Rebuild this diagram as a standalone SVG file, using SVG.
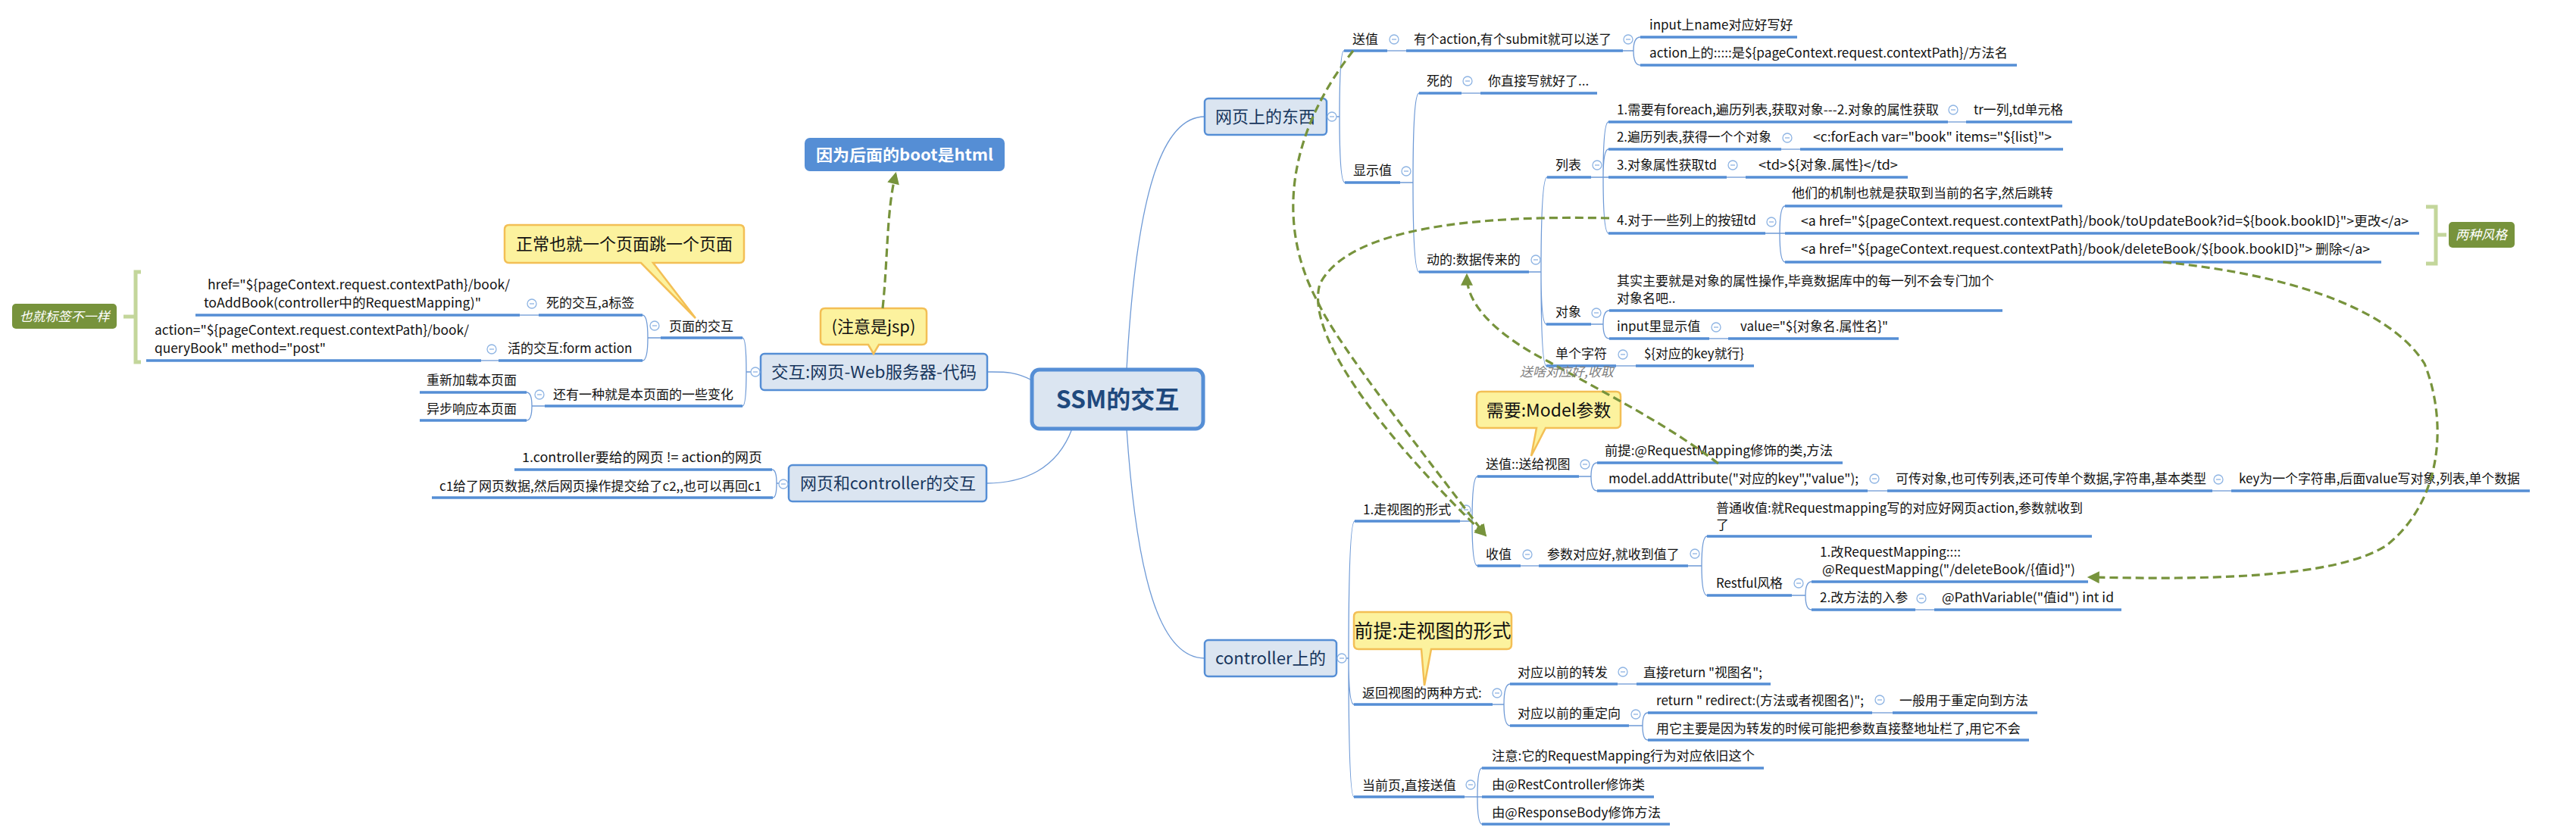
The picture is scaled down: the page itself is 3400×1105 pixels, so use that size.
<svg xmlns="http://www.w3.org/2000/svg" xmlns:xlink="http://www.w3.org/1999/xlink" width="3400" height="1105" viewBox="0 0 3400 1105">
<style>
text{font-family:"Noto Sans CJK SC","Noto Sans",sans-serif;font-size:17px;fill:#111}
.ul{stroke:#558ed5;stroke-width:3.5;fill:none}
.ln{stroke:#6f9ad6;stroke-width:1.3;fill:none}
.box{fill:#dbe5f1;stroke:#558ed5;stroke-width:2.5}
.nt{font-size:22px;fill:#17365d}
.call{fill:#fcf29e;stroke:#f3bf55;stroke-width:2.5}
.ct{font-size:22px;fill:#111}
.rel{stroke:#77933c;stroke-width:3.2;stroke-dasharray:11 6;fill:none}
.sumb{stroke:#c3d69b;stroke-width:5;fill:none}
.sum{fill:#77933c}
.st{fill:#fff;font-style:italic}
</style>
<defs>
<g id="col"><circle r="6" fill="#fff" stroke="#8eb4e3" stroke-width="1.3"/><line x1="-3" y1="0" x2="3" y2="0" stroke="#8eb4e3" stroke-width="1.3"/></g>
<marker id="ah" viewBox="0 0 10 10" refX="8" refY="5" markerWidth="18" markerHeight="16" markerUnits="userSpaceOnUse" orient="auto"><path d="M0,0 L10,5 L0,10 z" fill="#77933c"/></marker>
</defs>
<rect width="3400" height="1105" fill="#fff"/>

<g id="connectors">
<path class="ln" d="M1362,502 C1340,490 1325,491 1303,491"/>
<path class="ln" d="M1415,566 C1395,620 1350,638 1302,638"/>
<path class="ln" d="M1487,488 C1500,250 1535,154 1590,154"/>
<path class="ln" d="M1487,566 C1500,760 1530,869 1590,869"/>
<path class="ln" d="M1751,154 H1768 M1768,154 Q1768,67 1774,67 M1768,154 Q1768,241 1775,241"/>
<path class="ln" d="M1831,67 H1856"/>
<path class="ln" d="M2142,67 H2156 M2156,67 Q2156,49 2165,49 M2156,67 Q2156,86 2165,86"/>
<path class="ln" d="M1848,241 H1865 M1865,241 Q1865,123 1873,123 M1865,241 Q1865,359 1873,359"/>
<path class="ln" d="M1929,123 H1954"/>
<path class="ln" d="M2018,359 H2034 M2034,359 Q2034,234 2042,234 M2034,359 Q2034,428 2041,428 M2034,359 Q2034,483 2041,483"/>
<path class="ln" d="M2100,234 H2116 M2116,234 Q2116,161 2123,161 M2116,234 Q2116,197 2123,197 M2116,234 H2123 M2116,234 Q2116,308 2123,308"/>
<path class="ln" d="M2571,161 H2595"/>
<path class="ln" d="M2351,197 H2376"/>
<path class="ln" d="M2279,234 H2304"/>
<path class="ln" d="M2330,308 H2349 M2349,308 Q2349,272 2356,272 M2349,308 H2356 M2349,308 Q2349,346 2356,346"/>
<path class="ln" d="M2100,428 H2116 M2116,428 Q2116,410 2124,410 M2116,428 Q2116,447 2124,447"/>
<path class="ln" d="M2256,447 H2281"/>
<path class="ln" d="M2133,483 H2159"/>
<path class="ln" d="M1764,869 H1780 M1780,869 Q1780,688 1788,688 M1780,869 Q1780,930 1787,930 M1780,869 Q1780,1052 1787,1052"/>
<path class="ln" d="M1927,688 H1943 M1943,688 Q1943,629 1950,629 M1943,688 Q1943,747 1950,747"/>
<path class="ln" d="M2084,629 H2100 M2100,629 Q2100,611 2108,611 M2100,629 Q2100,648 2108,648"/>
<path class="ln" d="M2465,648 H2491"/>
<path class="ln" d="M2920,648 H2945"/>
<path class="ln" d="M2007,747 H2031"/>
<path class="ln" d="M2228,747 H2246 M2246,747 Q2246,708 2253,708 M2246,747 Q2246,786 2253,786"/>
<path class="ln" d="M2365,786 H2383 M2383,786 Q2383,768 2391,768 M2383,786 Q2383,805 2391,805"/>
<path class="ln" d="M2528,805 H2553"/>
<path class="ln" d="M1970,930 H1985 M1985,930 Q1985,903 1993,903 M1985,930 Q1985,958 1993,958"/>
<path class="ln" d="M2135,903 H2160"/>
<path class="ln" d="M2150,958 H2168 M2168,958 Q2168,941 2175,941 M2168,958 Q2168,977 2175,977"/>
<path class="ln" d="M2471,941 H2498"/>
<path class="ln" d="M1933,1052 H1950 M1950,1052 Q1950,1014 1956,1014 M1950,1052 H1956 M1950,1052 Q1950,1088 1956,1088"/>
<path class="ln" d="M1004,491 H985 M985,491 Q985,446 980,446 M985,491 Q985,536 980,536"/>
<path class="ln" d="M872,446 H855 M855,446 Q855,416 848,416 M855,446 Q855,476 848,476"/>
<path class="ln" d="M711,416 H686"/>
<path class="ln" d="M658,476 H635"/>
<path class="ln" d="M719,536 H702 M702,536 Q702,518 695,518 M702,536 Q702,555 695,555"/>
<path class="ln" d="M1041,638 H1025 M1025,638 Q1025,620 1019,620 M1025,638 Q1025,657 1020,657"/>
</g>

<g id="n-root"><rect x="1362" y="488" width="226" height="78" rx="10" fill="#dbe5f1" stroke="#558ed5" stroke-width="5"/><text x="1475" y="539" text-anchor="middle" style="font-size:32px;font-weight:bold;fill:#1f497d">SSM的交互</text></g>

<g id="n-jiaohu"><rect class="box" x="1004" y="467" width="299" height="48" rx="5"/><text class="nt" x="1018" y="499" textLength="271" lengthAdjust="spacingAndGlyphs">交互:网页-Web服务器-代码</text><use href="#col" x="997" y="491"/></g>
<g id="n-wyc"><rect class="box" x="1041" y="614" width="261" height="48" rx="5"/><text class="nt" x="1056" y="646" textLength="232" lengthAdjust="spacingAndGlyphs">网页和controller的交互</text><use href="#col" x="1034" y="639"/></g>
<g id="n-web"><rect class="box" x="1590" y="130" width="161" height="48" rx="5"/><text class="nt" x="1604" y="162">网页上的东西</text><use href="#col" x="1758" y="154"/></g>
<g id="n-ctrl"><rect class="box" x="1590" y="845" width="174" height="48" rx="5"/><text class="nt" x="1604" y="877" textLength="146" lengthAdjust="spacingAndGlyphs">controller上的</text><use href="#col" x="1771" y="869"/></g>

<g id="n-boot"><rect x="1062" y="182" width="264" height="44" rx="7" fill="#558ed5"/><text x="1194" y="212" text-anchor="middle" textLength="234" lengthAdjust="spacingAndGlyphs" style="font-size:21px;font-weight:bold;fill:#fff">因为后面的boot是html</text></g>
<g id="n-jsp"><path class="call" d="M1089,407 H1217 Q1223,407 1223,413 V449 Q1223,455 1217,455 H1160 L1153,467 L1146,455 H1089 Q1083,455 1083,449 V413 Q1083,407 1089,407 Z"/><text class="ct" x="1153" y="439" text-anchor="middle">(注意是jsp)</text></g>
<g id="n-zc"><path class="call" d="M672,297 H976 Q982,297 982,303 V341 Q982,347 976,347 H862 L918,420 L846,347 H672 Q666,347 666,341 V303 Q666,297 672,297 Z"/><text class="ct" x="824" y="330" text-anchor="middle">正常也就一个页面跳一个页面</text></g>
<g id="n-model"><path class="call" d="M1955,517 H2133 Q2139,517 2139,523 V559 Q2139,565 2133,565 H2040 L2021,602 L2028,565 H1955 Q1949,565 1949,559 V523 Q1949,517 1955,517 Z"/><text class="ct" x="2044" y="550" text-anchor="middle" style="font-size:23px">需要:Model参数</text></g>
<g id="n-qt"><path class="call" d="M1793,808 H1989 Q1995,808 1995,814 V851 Q1995,857 1989,857 H1889 L1880,905 L1876,857 H1793 Q1787,857 1787,851 V814 Q1787,808 1793,808 Z"/><text class="ct" x="1891" y="842" text-anchor="middle" style="font-size:25px">前提:走视图的形式</text></g>

<g id="n-sz"><text x="1785" y="58">送值</text><path class="ul" d="M1774,67 H1831"/><use href="#col" x="1840" y="52"/></g>
<g id="n-yg"><text x="1866" y="58" textLength="261" lengthAdjust="spacingAndGlyphs">有个action,有个submit就可以送了</text><path class="ul" d="M1856,67 H2142"/><use href="#col" x="2149" y="52"/></g>
<g id="n-input"><text x="2177" y="39">input上name对应好写好</text><path class="ul" d="M2165,49 H2372"/></g>
<g id="n-action"><text x="2177" y="76" textLength="473" lengthAdjust="spacingAndGlyphs">action上的:::::是${pageContext.request.contextPath}/方法名</text><path class="ul" d="M2165,86 H2662"/></g>
<g id="n-xsz"><text x="1786" y="231">显示值</text><path class="ul" d="M1775,241 H1848"/><use href="#col" x="1856" y="226"/></g>
<g id="n-sd"><text x="1883" y="113">死的</text><path class="ul" d="M1873,123 H1929"/><use href="#col" x="1937" y="107"/></g>
<g id="n-nzj"><text x="1964" y="113">你直接写就好了...</text><path class="ul" d="M1954,123 H2108"/></g>
<g id="n-dd"><text x="1883" y="349">动的:数据传来的</text><path class="ul" d="M1873,359 H2018"/><use href="#col" x="2027" y="343"/></g>
<g id="n-lb"><text x="2053" y="224">列表</text><path class="ul" d="M2042,234 H2100"/><use href="#col" x="2108" y="218"/></g>
<g id="n-i1"><text x="2134" y="151" textLength="425" lengthAdjust="spacingAndGlyphs">1.需要有foreach,遍历列表,获取对象---2.对象的属性获取</text><path class="ul" d="M2123,161 H2571"/><use href="#col" x="2578" y="145"/></g>
<g id="n-tr"><text x="2605" y="151" textLength="118" lengthAdjust="spacingAndGlyphs">tr一列,td单元格</text><path class="ul" d="M2595,161 H2735"/></g>
<g id="n-i2"><text x="2134" y="187" textLength="204" lengthAdjust="spacingAndGlyphs">2.遍历列表,获得一个个对象</text><path class="ul" d="M2123,197 H2351"/><use href="#col" x="2359" y="182"/></g>
<g id="n-fe"><text x="2393" y="187" textLength="315" lengthAdjust="spacingAndGlyphs">&lt;c:forEach var="book" items="${list}"&gt;</text><path class="ul" d="M2376,197 H2723"/></g>
<g id="n-i3"><text x="2134" y="224" textLength="132" lengthAdjust="spacingAndGlyphs">3.对象属性获取td</text><path class="ul" d="M2123,234 H2279"/><use href="#col" x="2287" y="218"/></g>
<g id="n-td"><text x="2321" y="224" textLength="184" lengthAdjust="spacingAndGlyphs">&lt;td&gt;${对象.属性}&lt;/td&gt;</text><path class="ul" d="M2304,234 H2518"/></g>
<g id="n-i4"><text x="2134" y="297">4.对于一些列上的按钮td</text><path class="ul" d="M2123,308 H2330"/><use href="#col" x="2338" y="293"/></g>
<g id="n-tm"><text x="2365" y="261">他们的机制也就是获取到当前的名字,然后跳转</text><path class="ul" d="M2356,272 H2722"/></g>
<g id="n-upd"><text x="2377" y="298" textLength="802" lengthAdjust="spacingAndGlyphs">&lt;a href="${pageContext.request.contextPath}/book/toUpdateBook?id=${book.bookID}"&gt;更改&lt;/a&gt;</text><path class="ul" d="M2356,308 H3193"/></g>
<g id="n-del"><text x="2377" y="335" textLength="751" lengthAdjust="spacingAndGlyphs">&lt;a href="${pageContext.request.contextPath}/book/deleteBook/${book.bookID}"&gt; 删除&lt;/a&gt;</text><path class="ul" d="M2356,346 H3143"/></g>
<g id="s-lzfg"><path class="sumb" d="M3202,273 H3215 V348 H3202 M3215,310 H3229"/><rect class="sum" x="3232" y="293" width="87" height="34" rx="5"/><text class="st" x="3275" y="316" text-anchor="middle">两种风格</text></g>
<g id="n-dx"><text x="2053" y="418">对象</text><path class="ul" d="M2041,428 H2100"/><use href="#col" x="2107" y="413"/></g>
<g id="n-qs"><text x="2134" y="377">其实主要就是对象的属性操作,毕竟数据库中的每一列不会专门加个</text><text x="2134" y="400">对象名吧..</text><path class="ul" d="M2124,410 H2643"/></g>
<g id="n-inx"><text x="2134" y="437">input里显示值</text><path class="ul" d="M2124,447 H2256"/><use href="#col" x="2265" y="432"/></g>
<g id="n-val"><text x="2297" y="437" textLength="195" lengthAdjust="spacingAndGlyphs">value="${对象名.属性名}"</text><path class="ul" d="M2281,447 H2506"/></g>
<g id="n-dgzf"><text x="2053" y="473">单个字符</text><path class="ul" d="M2041,483 H2133"/><use href="#col" x="2142" y="468"/></g>
<g id="n-key"><text x="2170" y="473" textLength="132" lengthAdjust="spacingAndGlyphs">${对应的key就行}</text><path class="ul" d="M2159,483 H2315"/></g>

<g id="n-zst"><text x="1799" y="679">1.走视图的形式</text><path class="ul" d="M1788,688 H1927"/><use href="#col" x="1935" y="673"/></g>
<g id="n-szs"><text x="1961" y="619">送值::送给视图</text><path class="ul" d="M1950,629 H2084"/><use href="#col" x="2092" y="613"/></g>
<g id="n-qtrm"><text x="2118" y="601" textLength="301" lengthAdjust="spacingAndGlyphs">前提:@RequestMapping修饰的类,方法</text><path class="ul" d="M2108,611 H2432"/></g>
<g id="n-madd"><text x="2123" y="638" textLength="330" lengthAdjust="spacingAndGlyphs">model.addAttribute("对应的key","value");</text><path class="ul" d="M2108,648 H2465"/><use href="#col" x="2474" y="632"/></g>
<g id="n-kc"><text x="2502" y="638">可传对象,也可传列表,还可传单个数据,字符串,基本类型</text><path class="ul" d="M2491,648 H2920"/><use href="#col" x="2928" y="633"/></g>
<g id="n-kw"><text x="2955" y="638" textLength="371" lengthAdjust="spacingAndGlyphs">key为一个字符串,后面value写对象,列表,单个数据</text><path class="ul" d="M2945,648 H3339"/></g>
<g id="n-sz2"><text x="1961" y="738">收值</text><path class="ul" d="M1950,747 H2007"/><use href="#col" x="2016" y="732"/></g>
<g id="n-csd"><text x="2042" y="738">参数对应好,就收到值了</text><path class="ul" d="M2031,747 H2228"/><use href="#col" x="2237" y="731"/></g>
<g id="n-pt"><text x="2265" y="677" textLength="484" lengthAdjust="spacingAndGlyphs">普通收值:就Requestmapping写的对应好网页action,参数就收到</text><text x="2265" y="699">了</text><path class="ul" d="M2253,708 H2761"/></g>
<g id="n-rest"><text x="2265" y="776" textLength="88" lengthAdjust="spacingAndGlyphs">Restful风格</text><path class="ul" d="M2253,786 H2365"/><use href="#col" x="2374" y="770"/></g>
<g id="n-g1"><text x="2402" y="735" textLength="186" lengthAdjust="spacingAndGlyphs">1.改RequestMapping::::</text><text x="2405" y="758" textLength="334" lengthAdjust="spacingAndGlyphs">@RequestMapping("/deleteBook/{值id}")</text><path class="ul" d="M2391,768 H2756"/></g>
<g id="n-g2"><text x="2402" y="795">2.改方法的入参</text><path class="ul" d="M2391,805 H2528"/><use href="#col" x="2536" y="790"/></g>
<g id="n-pv"><text x="2563" y="795" textLength="227" lengthAdjust="spacingAndGlyphs">@PathVariable("值id") int id</text><path class="ul" d="M2553,805 H2800"/></g>
<g id="n-fh"><text x="1798" y="921">返回视图的两种方式:</text><path class="ul" d="M1787,930 H1970"/><use href="#col" x="1976" y="915"/></g>
<g id="n-zf"><text x="2003" y="894">对应以前的转发</text><path class="ul" d="M1993,903 H2135"/><use href="#col" x="2142" y="887"/></g>
<g id="n-zjr"><text x="2169" y="894" textLength="157" lengthAdjust="spacingAndGlyphs">直接return "视图名";</text><path class="ul" d="M2160,903 H2337"/></g>
<g id="n-cdx"><text x="2003" y="948">对应以前的重定向</text><path class="ul" d="M1993,958 H2150"/><use href="#col" x="2159" y="943"/></g>
<g id="n-rr"><text x="2186" y="931" textLength="274" lengthAdjust="spacingAndGlyphs">return " redirect:(方法或者视图名)";</text><path class="ul" d="M2175,941 H2471"/><use href="#col" x="2481" y="924"/></g>
<g id="n-yb"><text x="2507" y="931">一般用于重定向到方法</text><path class="ul" d="M2498,941 H2689"/></g>
<g id="n-yt"><text x="2186" y="968">用它主要是因为转发的时候可能把参数直接整地址栏了,用它不会</text><path class="ul" d="M2175,977 H2678"/></g>
<g id="n-dqy"><text x="1798" y="1043">当前页,直接送值</text><path class="ul" d="M1787,1052 H1933"/><use href="#col" x="1941" y="1036"/></g>
<g id="n-zy"><text x="1969" y="1004" textLength="347" lengthAdjust="spacingAndGlyphs">注意:它的RequestMapping行为对应依旧这个</text><path class="ul" d="M1956,1014 H2328"/></g>
<g id="n-rc"><text x="1969" y="1042" textLength="202" lengthAdjust="spacingAndGlyphs">由@RestController修饰类</text><path class="ul" d="M1956,1052 H2183"/></g>
<g id="n-rb"><text x="1969" y="1079" textLength="223" lengthAdjust="spacingAndGlyphs">由@ResponseBody修饰方法</text><path class="ul" d="M1956,1088 H2204"/></g>

<g id="n-c1"><text x="689" y="610" textLength="317" lengthAdjust="spacingAndGlyphs">1.controller要给的网页 != action的网页</text><path class="ul" d="M679,620 H1019"/></g>
<g id="n-c2"><text x="580" y="648" textLength="425" lengthAdjust="spacingAndGlyphs">c1给了网页数据,然后网页操作提交给了c2,,也可以再回c1</text><path class="ul" d="M570,657 H1020"/></g>
<g id="n-ymjh"><text x="883" y="437">页面的交互</text><path class="ul" d="M872,446 H980"/><use href="#col" x="864" y="430"/></g>
<g id="n-sdjh"><text x="721" y="406">死的交互,a标签</text><path class="ul" d="M711,416 H848"/><use href="#col" x="702" y="401"/></g>
<g id="n-href"><text x="274" y="382" textLength="399" lengthAdjust="spacingAndGlyphs">href="${pageContext.request.contextPath}/book/</text><text x="269" y="406" textLength="366" lengthAdjust="spacingAndGlyphs">toAddBook(controller中的RequestMapping)"</text><path class="ul" d="M258,416 H686"/></g>
<g id="n-hdjh"><text x="670" y="466">活的交互:form action</text><path class="ul" d="M658,476 H848"/><use href="#col" x="649" y="461"/></g>
<g id="n-act"><text x="204" y="442" textLength="415" lengthAdjust="spacingAndGlyphs">action="${pageContext.request.contextPath}/book/</text><text x="204" y="466" textLength="226" lengthAdjust="spacingAndGlyphs">queryBook" method="post"</text><path class="ul" d="M193,476 H635"/></g>
<g id="s-bq"><path class="sumb" d="M186,359 H179 V478 H186 M179,418 H163"/><rect class="sum" x="16" y="401" width="138" height="33" rx="5"/><text class="st" x="85" y="424" text-anchor="middle">也就标签不一样</text></g>
<g id="n-hy"><text x="730" y="527">还有一种就是本页面的一些变化</text><path class="ul" d="M719,536 H980"/><use href="#col" x="712" y="521"/></g>
<g id="n-cx"><text x="563" y="508">重新加载本页面</text><path class="ul" d="M554,518 H695"/></g>
<g id="n-yb2"><text x="563" y="546">异步响应本页面</text><path class="ul" d="M554,555 H695"/></g>

<g id="relations">
<path class="rel" marker-end="url(#ah)" d="M1165,407 C1172,340 1170,280 1182,230"/>
<path class="rel" marker-end="url(#ah)" d="M1786,67 C1705,170 1680,290 1740,400 C1765,455 1880,600 1960,706"/>
<path class="rel" marker-end="url(#ah)" d="M2124,288 C1950,284 1780,300 1742,375 C1720,450 1850,600 1960,706"/>
<path class="rel" marker-end="url(#ah)" d="M2268,612 C2200,560 2120,520 2045,478 C1990,450 1936,410 1936,364"/>
<path class="rel" marker-end="url(#ah)" d="M2855,346 C3000,360 3150,400 3200,480 C3230,555 3225,660 3150,720 C3080,765 2900,765 2758,762"/>
<text x="2006" y="497" style="font-style:italic;fill:#7f7f7f">送啥对应好,收取</text>
</g>
</svg>
